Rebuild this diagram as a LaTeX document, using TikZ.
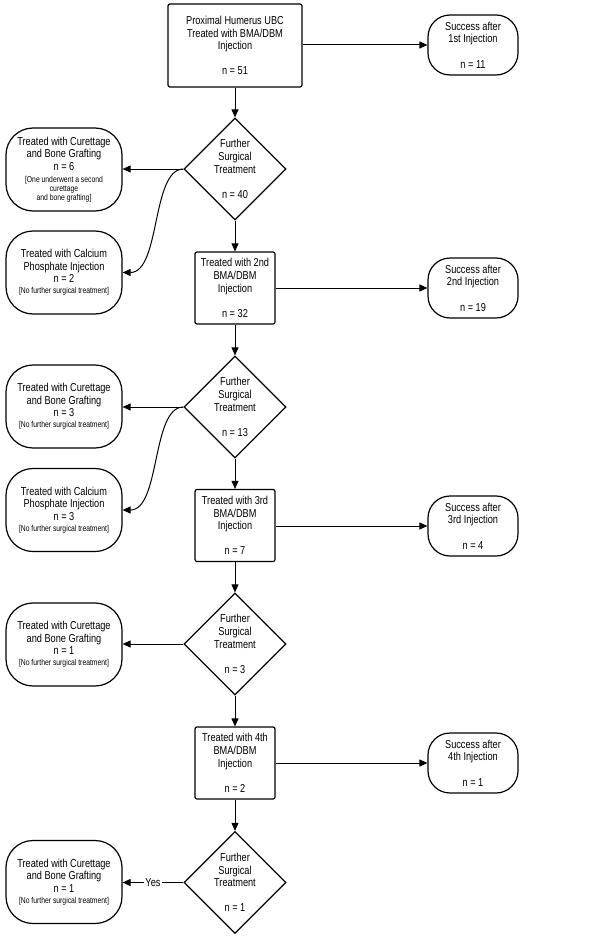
\documentclass[tikz,border=0pt]{standalone}
\usepackage{fontspec}
\setmainfont{Liberation Sans}[FakeStretch=0.8]
\usetikzlibrary{shapes.geometric,arrows.meta}
\newcommand{\smalltxt}[1]{{\fontsize{8.5}{9}\selectfont #1}}
\begin{document}
\begin{tikzpicture}[x=1pt,y=-1pt,
  every node/.style={font=\fontsize{11.5}{12.6}\selectfont, align=center, inner sep=0pt, line width=1.2pt},
  mainbox/.style={draw, rounded corners=2pt, minimum width=134pt, minimum height=83pt},
  injbox/.style={draw, rounded corners=2pt, minimum width=80pt, minimum height=72pt},
  decision/.style={diamond, draw, minimum width=102pt, minimum height=102pt},
  success/.style={draw, rounded corners=22pt, minimum width=90pt, minimum height=60pt},
  side/.style={draw, rounded corners=27pt, minimum width=116pt, minimum height=83pt},
  arr/.style={-{Triangle[length=8pt,width=7pt]}, line width=1pt}
]
\useasboundingbox (0,0) rectangle (600,939);

% main column
\node[mainbox] (top) at (235,45.5) {Proximal Humerus UBC\\Treated with BMA/DBM\\Injection\\[12.6pt]n = 51};
\node[decision] (d1) at (235,169) {Further\\Surgical\\Treatment\\[12.6pt]n = 40};
\node[injbox] (b2) at (235,288) {Treated with 2nd\\BMA/DBM\\Injection\\[12.6pt]n = 32};
\node[decision] (d2) at (235,407) {Further\\Surgical\\Treatment\\[12.6pt]n = 13};
\node[injbox] (b3) at (235,525.5) {Treated with 3rd\\BMA/DBM\\Injection\\[12.6pt]n = 7};
\node[decision] (d3) at (235,644) {Further\\Surgical\\Treatment\\[12.6pt]n = 3};
\node[injbox] (b4) at (235,763) {Treated with 4th\\BMA/DBM\\Injection\\[12.6pt]n = 2};
\node[decision] (d4) at (235,882.5) {Further\\Surgical\\Treatment\\[12.6pt]n = 1};

% success column
\node[success] (s1) at (473,45) {Success after\\1st Injection\\[12.6pt]n = 11};
\node[success] (s2) at (473,288) {Success after\\2nd Injection\\[12.6pt]n = 19};
\node[success] (s3) at (473,526) {Success after\\3rd Injection\\[12.6pt]n = 4};
\node[success] (s4) at (473,763) {Success after\\4th Injection\\[12.6pt]n = 1};

% side column
\node[side] (c1) at (64,169.5) {Treated with Curettage\\and Bone Grafting\\n = 6\\[-0.6pt]\smalltxt{[One underwent a second}\\[-3.6pt]\smalltxt{curettage}\\[-3.6pt]\smalltxt{and bone grafting]}};
\node[side] (p1) at (64,272.5) {Treated with Calcium\\Phosphate Injection\\n = 2\\[-1.6pt]\smalltxt{[No further surgical treatment]}};
\node[side] (c2) at (64,406.5) {Treated with Curettage\\and Bone Grafting\\n = 3\\[-1.6pt]\smalltxt{[No further surgical treatment]}};
\node[side] (p2) at (64,510) {Treated with Calcium\\Phosphate Injection\\n = 3\\[-1.6pt]\smalltxt{[No further surgical treatment]}};
\node[side] (c3) at (64,644.5) {Treated with Curettage\\and Bone Grafting\\n = 1\\[-1.6pt]\smalltxt{[No further surgical treatment]}};
\node[side] (c4) at (64,882) {Treated with Curettage\\and Bone Grafting\\n = 1\\[-1.6pt]\smalltxt{[No further surgical treatment]}};

% vertical connectors
\draw[arr] (top) -- (d1);
\draw[arr] (d1) -- (b2);
\draw[arr] (b2) -- (d2);
\draw[arr] (d2) -- (b3);
\draw[arr] (b3) -- (d3);
\draw[arr] (d3) -- (b4);
\draw[arr] (b4) -- (d4);

% success connectors
\draw[arr] (top.east |- s1.west) -- (s1.west);
\draw[arr] (b2.east |- s2.west) -- (s2.west);
\draw[arr] (b3.east |- s3.west) -- (s3.west);
\draw[arr] (b4.east |- s4.west) -- (s4.west);

% side connectors
\draw[arr] (d1.west) -- (d1.west -| c1.east);
\draw[arr] (d1.west) .. controls +(-32,0) and +(38,0) .. (p1.east);
\draw[arr] (d2.west) -- (d2.west -| c2.east);
\draw[arr] (d2.west) .. controls +(-32,0) and +(38,0) .. (p2.east);
\draw[arr] (d3.west) -- (d3.west -| c3.east);
\draw[arr] (d4.west) -- node[fill=white, inner sep=1pt] (yes) {Yes} (d4.west -| c4.east);
\end{tikzpicture}
\end{document}
